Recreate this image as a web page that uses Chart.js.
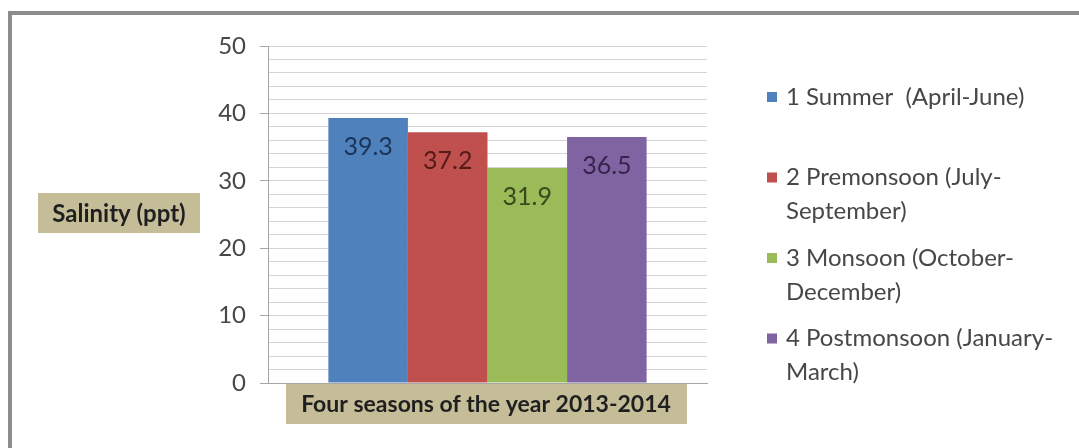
<!DOCTYPE html>
<html>
<head>
<meta charset="utf-8">
<script src="https://cdn.jsdelivr.net/npm/chart.js@4/dist/chart.umd.min.js"></script>
<style>
  html, body { margin: 0; padding: 0; background: #fff; }
  #wrap { position: relative; width: 1079px; height: 448px; overflow: hidden; }
  #frame { position: absolute; left: 8px; top: 11px; width: 1100px; height: 460px;
           border-top: 4px solid #8c8c8c; border-left: 4px solid #8c8c8c; pointer-events: none; }
  canvas { position: absolute; left: 0; top: 0; }
</style>
</head>
<body>
<div id="wrap">
  <canvas id="chart" width="1079" height="448"></canvas>
  <div id="frame"></div>
</div>
<script>
// ---- data ----
const categories = [''];
const seriesNames = [
  ['1 Summer  (April-June)'],
  ['2 Premonsoon (July-', 'September)'],
  ['3 Monsoon (October-', 'December)'],
  ['4 Postmonsoon (January-', 'March)']
];
const salinity = [39.3, 37.2, 31.9, 36.5];
const yTickLabels = ['0', '10', '20', '30', '40', '50'];
const yTitle = 'Salinity (ppt)';
const xTitle = 'Four seasons of the year 2013-2014';

const barColors = ['#4f81bd', '#c0504d', '#9bbb59', '#8064a2'];
const labelColors = ['#1c3559', '#561b19', '#3a491c', '#33254d'];
const FONT = 'Lato, "Open Sans", sans-serif';
const TAN = '#c4bd97';

const datasets = salinity.map((v, i) => ({
  label: seriesNames[i].join(''),
  data: [v],
  backgroundColor: barColors[i],
  borderWidth: 0
}));

// ------------------ extras: value labels, axis title boxes, legend ------------------
const extras = {
  id: 'extras',
  afterDatasetsDraw(chart) {
    const ctx = chart.ctx;
    ctx.save();
    ctx.font = '25px ' + FONT;
    ctx.textAlign = 'center';
    ctx.textBaseline = 'middle';
    chart.data.datasets.forEach((ds, i) => {
      const bar = chart.getDatasetMeta(i).data[0];
      ctx.fillStyle = labelColors[i];
      ctx.fillText(ds.data[0].toFixed(1), bar.x, bar.y + 29);
    });
    ctx.restore();
  },
  afterDraw(chart) {
    const ctx = chart.ctx;
    ctx.save();
    // y title box
    ctx.fillStyle = TAN;
    ctx.fillRect(38, 193, 162, 40);
    ctx.fillStyle = '#1f1f1f';
    ctx.font = 'bold 24px ' + FONT;
    ctx.textAlign = 'center';
    ctx.textBaseline = 'middle';
    ctx.fillText(yTitle, 119, 214);
    // x title box
    ctx.fillStyle = TAN;
    ctx.fillRect(286, 384, 401, 40);
    ctx.fillStyle = '#1f1f1f';
    ctx.font = 'bold 23px ' + FONT;
    ctx.fillText(xTitle, 486, 405);
    // legend
    ctx.textAlign = 'left';
    ctx.font = '24px ' + FONT;
    seriesNames.forEach((lines, i) => {
      const y0 = 97 + i * 80.5;
      ctx.fillStyle = barColors[i];
      ctx.fillRect(767, y0 - 5, 10, 10);
      ctx.fillStyle = '#474747';
      lines.forEach((t, k) => ctx.fillText(t, 786, y0 + k * 34));
    });
    ctx.restore();
  }
};

new Chart(document.getElementById('chart'), {
  type: 'bar',
  data: { labels: categories, datasets: datasets },
  options: {
    responsive: false,
    animation: false,
    events: [],
    layout: { padding: { top: 46, right: 372, left: 0, bottom: 0 } },
    datasets: { bar: { categoryPercentage: 0.725, barPercentage: 1 } },
    plugins: { legend: { display: false }, tooltip: { enabled: false } },
    scales: {
      x: {
        grid: { display: false },
        border: { display: true, color: '#a6a6a6' },
        ticks: { display: false },
        afterFit(scale) { scale.height = 65; }
      },
      y: {
        min: 0,
        max: 50,
        ticks: {
          stepSize: 2,
          autoSkip: false,
          padding: 14,
          color: '#474747',
          font: { family: FONT, size: 24 },
          callback: (v) => (v % 10 === 0 ? yTickLabels[v / 10] : '')
        },
        grid: {
          color: (c) => (c.tick && c.tick.value === 0 ? 'rgba(0,0,0,0)' : '#d4d4d4'),
          tickLength: 8,
          tickColor: (c) => (c.tick && c.tick.value % 10 === 0 ? '#a6a6a6' : 'rgba(0,0,0,0)')
        },
        border: { display: true, color: '#a6a6a6' },
        afterFit(scale) { scale.width = 268; }
      }
    }
  },
  plugins: [extras]
});
</script>
</body>
</html>
